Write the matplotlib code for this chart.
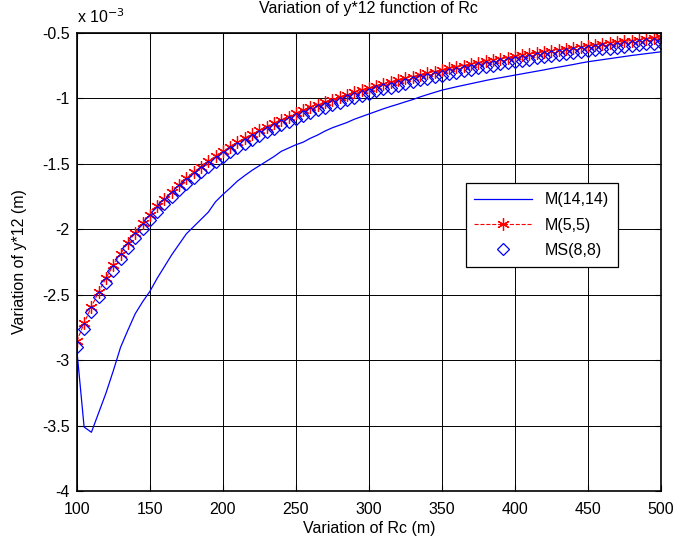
import matplotlib
matplotlib.use("Agg")
import matplotlib.pyplot as plt
import numpy as np

# Rc values (m), step of 5 from 100 to 500
rc = list(range(100, 505, 5))

# y*12 values, in units of 1e-3 m
m14 = [-2.92, -3.51, -3.55, -3.40, -3.25, -3.08, -2.90, -2.77, -2.645, -2.555,
       -2.475, -2.375, -2.285, -2.195, -2.115, -2.035, -1.98, -1.925, -1.87, -1.79,
       -1.735, -1.685, -1.632, -1.59, -1.55, -1.515, -1.48, -1.445, -1.405, -1.38,
       -1.355, -1.335, -1.305, -1.28, -1.25, -1.225, -1.205, -1.185, -1.16, -1.14,
       -1.12, -1.10, -1.08, -1.062, -1.045, -1.027, -1.01, -0.99, -0.972, -0.955,
       -0.938, -0.925, -0.912, -0.90, -0.888, -0.876, -0.864, -0.853, -0.843, -0.833,
       -0.823, -0.813, -0.803, -0.793, -0.783, -0.772, -0.762, -0.752, -0.742, -0.731,
       -0.721, -0.713, -0.705, -0.697, -0.689, -0.681, -0.673, -0.666, -0.659, -0.652,
       -0.645]

m5 = [-2.855, -2.717, -2.591, -2.477, -2.372, -2.275, -2.186, -2.103, -2.026, -1.955,
      -1.888, -1.826, -1.768, -1.713, -1.661, -1.612, -1.566, -1.523, -1.481, -1.442,
      -1.405, -1.370, -1.336, -1.304, -1.273, -1.244, -1.216, -1.189, -1.163, -1.139,
      -1.115, -1.092, -1.070, -1.049, -1.029, -1.010, -0.991, -0.973, -0.955, -0.938,
      -0.922, -0.906, -0.890, -0.876, -0.861, -0.847, -0.834, -0.821, -0.808, -0.796,
      -0.784, -0.772, -0.761, -0.750, -0.739, -0.728, -0.718, -0.708, -0.699, -0.689,
      -0.680, -0.671, -0.662, -0.654, -0.645, -0.637, -0.629, -0.622, -0.614, -0.607,
      -0.599, -0.592, -0.585, -0.579, -0.572, -0.566, -0.559, -0.553, -0.547, -0.541,
      -0.535]

ms8 = [-2.897, -2.759, -2.633, -2.519, -2.414, -2.317, -2.228, -2.145, -2.068, -1.997,
       -1.930, -1.868, -1.810, -1.755, -1.703, -1.654, -1.608, -1.565, -1.523, -1.484,
       -1.447, -1.412, -1.378, -1.346, -1.315, -1.286, -1.258, -1.231, -1.205, -1.181,
       -1.157, -1.134, -1.112, -1.091, -1.071, -1.052, -1.033, -1.015, -0.997, -0.980,
       -0.964, -0.948, -0.932, -0.918, -0.903, -0.889, -0.876, -0.863, -0.850, -0.838,
       -0.826, -0.814, -0.803, -0.792, -0.781, -0.770, -0.760, -0.750, -0.741, -0.731,
       -0.722, -0.713, -0.704, -0.696, -0.687, -0.679, -0.671, -0.664, -0.656, -0.649,
       -0.641, -0.634, -0.627, -0.621, -0.614, -0.608, -0.601, -0.595, -0.589, -0.583,
       -0.577]

xticks = [100, 150, 200, 250, 300, 350, 400, 450, 500]
yticks = [-4, -3.5, -3, -2.5, -2, -1.5, -1, -0.5]

plt.rcParams['font.family'] = ['Liberation Sans', 'DejaVu Sans']
plt.rcParams['font.size'] = 11.5

fig = plt.figure(figsize=(6.92, 5.47), dpi=100)
ax = fig.add_axes([0.111, 0.102, 0.844, 0.838])

ax.plot(rc, m14, color='blue', lw=0.9, label='M(14,14)')
ax.plot(rc, m5, color='red', ls='--', lw=0.8, marker=(6, 2, 0), ms=9,
        mew=0.9, label='M(5,5)')
ax.plot(rc, ms8, color='blue', ls='none', marker='D', ms=6.5, mfc='none',
        mew=0.9, label='MS(8,8)')

ax.set_xlim(100, 500)
ax.set_ylim(-4, -0.5)
ax.set_xticks(xticks)
ax.set_yticks(yticks)
ax.set_yticklabels([f'{t:g}' for t in yticks])
ax.grid(True, color='black', lw=0.7)
ax.set_axisbelow(True)
ax.tick_params(direction='in', length=4, top=True, right=True, labelsize=11.5)
ax.tick_params(axis='x', pad=8)
ax.tick_params(axis='y', pad=5)
for s in ax.spines.values():
    s.set_linewidth(1.2)

ax.set_title('Variation of y*12 function of Rc', fontsize=11.5, pad=14)
ax.set_xlabel('Variation of Rc (m)', fontsize=11.5, labelpad=3)
ax.set_ylabel('Variation of y*12 (m)', fontsize=11.5, labelpad=11)
ax.text(0.0, 1.015, r'x 10$^{-3}$', transform=ax.transAxes, fontsize=11.5,
        ha='left', va='bottom')

leg = ax.legend(loc='upper left', bbox_to_anchor=(0.652, 0.689), fontsize=11.5,
                fancybox=False, edgecolor='black', framealpha=1,
                handlelength=3.6, borderpad=0.55, labelspacing=0.65)
leg.get_frame().set_linewidth(0.9)

fig.savefig('out.png', dpi=100)
